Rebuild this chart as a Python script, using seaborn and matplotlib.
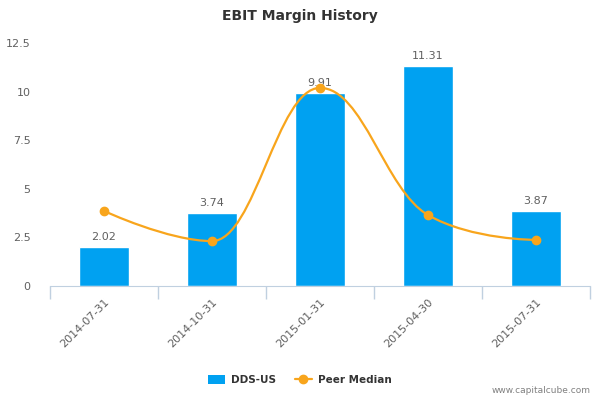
import matplotlib
matplotlib.use('Agg')
import matplotlib.pyplot as plt
import seaborn as sns
import pandas as pd
from matplotlib.path import Path
from matplotlib.patches import PathPatch, Patch
from matplotlib.lines import Line2D

# Data
dates = ['2014-07-31', '2014-10-31', '2015-01-31', '2015-04-30', '2015-07-31']
dds_us = [2.02, 3.74, 9.91, 11.31, 3.87]
peer_median = [3.86, 2.31, 10.19, 3.65, 2.37]

BAR_COLOR = '#00a1f1'
LINE_COLOR = '#f8a51c'
AXIS_COLOR = '#c0d0e0'
TEXT_COLOR = '#606060'

sns.set_style('white')
plt.rcParams['font.family'] = ['DejaVu Sans']


def spline_path(xs, ys, smoothing=1.5):
    """Bezier path through the points, in the style of a Highcharts spline."""
    n = len(xs)
    left = [(xs[i], ys[i]) for i in range(n)]
    right = [(xs[i], ys[i]) for i in range(n)]
    d = smoothing + 1
    for i in range(1, n - 1):
        x, y = xs[i], ys[i]
        lx = (smoothing * x + xs[i - 1]) / d
        ly = (smoothing * y + ys[i - 1]) / d
        rx = (smoothing * x + xs[i + 1]) / d
        ry = (smoothing * y + ys[i + 1]) / d
        corr = ((ry - ly) * (rx - x)) / (rx - lx) + y - ry
        ly += corr
        ry += corr
        if ly > ys[i - 1] and ly > y:
            ly = max(ys[i - 1], y)
            ry = 2 * y - ly
        elif ly < ys[i - 1] and ly < y:
            ly = min(ys[i - 1], y)
            ry = 2 * y - ly
        if ry > ys[i + 1] and ry > y:
            ry = max(ys[i + 1], y)
            ly = 2 * y - ry
        elif ry < ys[i + 1] and ry < y:
            ry = min(ys[i + 1], y)
            ly = 2 * y - ry
        left[i] = (lx, ly)
        right[i] = (rx, ry)
    verts = [(xs[0], ys[0])]
    codes = [Path.MOVETO]
    for i in range(1, n):
        verts += [right[i - 1], left[i], (xs[i], ys[i])]
        codes += [Path.CURVE4] * 3
    return Path(verts, codes)


df = pd.DataFrame({'date': dates, 'value': dds_us})

fig = plt.figure(figsize=(6, 4), dpi=100)
ax = fig.add_axes([50 / 600, 0.285, 540 / 600, 0.6075])

sns.barplot(data=df, x='date', y='value', color=BAR_COLOR, width=0.47,
            saturation=1, ax=ax, zorder=2)

for i, v in enumerate(dds_us):
    ax.text(i, v + 0.25, f'{v:.2f}', ha='center', va='bottom',
            fontsize=8, color=TEXT_COLOR, zorder=3)

xs = list(range(len(dates)))
ax.add_patch(PathPatch(spline_path(xs, peer_median), facecolor='none',
                       edgecolor=LINE_COLOR, lw=1.6, zorder=4))
ax.scatter(xs, peer_median, s=36, color=LINE_COLOR, zorder=5)

ax.set_xlim(-0.5, len(dates) - 0.5)
ax.set_ylim(0, 12.5)
ax.set_yticks([0, 2.5, 5, 7.5, 10, 12.5])
ax.set_yticklabels(['0', '2.5', '5', '7.5', '10', '12.5'])
ax.tick_params(axis='y', length=0, labelsize=8, labelcolor=TEXT_COLOR, pad=14)

ax.set_xticks(xs)
ax.set_xticklabels(dates, rotation=45, ha='right', rotation_mode='anchor',
                   fontsize=8, color=TEXT_COLOR)
ax.tick_params(axis='x', length=0, pad=8)
ax.set_xticks([x - 0.5 for x in range(len(dates) + 1)], minor=True)
ax.tick_params(axis='x', which='minor', bottom=True, direction='out',
               length=9, color=AXIS_COLOR, width=1)

for side in ['top', 'right', 'left']:
    ax.spines[side].set_visible(False)
ax.spines['bottom'].set_color(AXIS_COLOR)
ax.set_xlabel('')
ax.set_ylabel('')

fig.text(0.5, 0.96, 'EBIT Margin History', ha='center', va='center',
         fontsize=10, fontweight='bold', color='#333333')

handles = [
    Patch(facecolor=BAR_COLOR, edgecolor='none'),
    Line2D([0], [0], color=LINE_COLOR, lw=1.6, marker='o', markersize=6),
]
leg = fig.legend(handles, ['DDS-US', 'Peer Median'], loc='center',
                 bbox_to_anchor=(0.5, 0.05), ncol=2, frameon=False,
                 fontsize=7.5, handlelength=1.6, handleheight=0.9,
                 columnspacing=1.8, handletextpad=0.6)
for t in leg.get_texts():
    t.set_fontweight('bold')
    t.set_color('#333333')

fig.text(0.985, 0.012, 'www.capitalcube.com', ha='right', va='bottom',
         fontsize=6.5, color='#808080')

fig.savefig('out.png', dpi=100)
